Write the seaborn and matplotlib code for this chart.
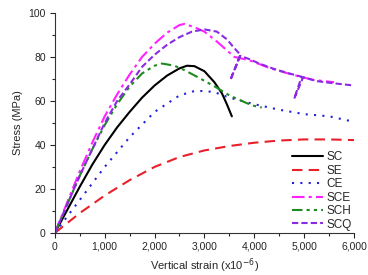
import numpy as np
import pandas as pd
import matplotlib
matplotlib.use("Agg")
import matplotlib.pyplot as plt
import seaborn as sns
from matplotlib.ticker import FuncFormatter, MultipleLocator

# strain (x10^-6) and stress (MPa)
sc_x = [0, 250, 500, 750, 1000, 1250, 1500, 1750, 2000, 2250, 2500, 2650, 2800, 3000, 3200, 3350, 3450, 3550]
sc_y = [0, 10.5, 21, 31, 40, 48, 55, 61.5, 67, 71.5, 74.8, 76, 75.8, 73.5, 68.5, 63.5, 58.5, 53]

se_x = [0, 500, 1000, 1500, 2000, 2500, 3000, 3500, 4000, 4500, 5000, 5500, 6000]
se_y = [0, 9, 17, 24, 30, 34.5, 37.5, 39.5, 41, 42, 42.5, 42.5, 42.2]

ce_x = [0, 500, 1000, 1500, 2000, 2500, 2800, 3000, 3200, 3500, 4000, 4500, 5000, 5500, 6000]
ce_y = [0, 15, 30, 43.5, 55, 62.5, 64.5, 64.5, 64, 61.5, 58.5, 56, 54, 53, 50.5]

sce_x = [0, 250, 500, 750, 1000, 1250, 1500, 1750, 2000, 2250, 2500, 2600, 2800, 3000, 3250, 3450, 3600,
         3900, 4300, 4600, 4920, 5200, 5600]
sce_y = [0, 14, 28, 41, 53, 63, 72, 80, 86, 91, 94.5, 95, 93.5, 91.5, 87, 83, 80,
         78.5, 75, 73, 71, 69.5, 68.5]

sch_x = [0, 250, 500, 750, 1000, 1250, 1500, 1750, 2000, 2150, 2400, 2600, 2850, 3050, 3250, 3500, 3750, 3950, 4150]
sch_y = [0, 13, 26, 38, 49, 58.5, 66.5, 72.5, 76, 77, 76, 74, 71, 68.5, 66, 62.5, 60, 58, 57]

scq_x = [0, 250, 500, 750, 1000, 1250, 1500, 1750, 2000, 2250, 2500, 2750, 3000, 3250, 3450, 3600, 3720,
         3520, 3720, 3900, 4100, 4400, 4700, 4950, 4800, 4980, 5250, 5600, 6000]
scq_y = [0, 13, 26, 38, 50, 60, 67.5, 75.5, 81, 85.5, 89, 91.5, 92.5, 91.5, 88, 84, 81,
         69.5, 80.5, 79, 77, 74.5, 72.5, 71, 61, 70.8, 69, 68, 67]

labels = ["SC", "SE", "CE", "SCE", "SCH", "SCQ"]
xs = [sc_x, se_x, ce_x, sce_x, sch_x, scq_x]
ys = [sc_y, se_y, ce_y, sce_y, sch_y, scq_y]
colors = ["black", "#e8202a", "#2222dd", "#ff22ff", "#1f8a1f", "#8a2be2"]
styles = ["-", (0, (5, 3)), (0, (1, 3)), (0, (6, 2, 1.5, 2)), (0, (5, 2, 1.5, 2, 1.5, 2)), (0, (3, 1.5))]

sns.set_theme(style="ticks")
plt.rcParams["font.family"] = ["Liberation Sans", "DejaVu Sans"]

fig = plt.figure(figsize=(3.68, 2.75), dpi=100)
ax = fig.add_axes([0.149, 0.153, 0.813, 0.8])

for x, y, lab, c, ls in zip(xs, ys, labels, colors, styles):
    df = pd.DataFrame({"strain": x, "stress": y})
    sns.lineplot(data=df, x="strain", y="stress", sort=False, estimator=None,
                 color=c, linestyle=ls, linewidth=1.5, label=lab, ax=ax)

ax.set_xlim(0, 6000)
ax.set_ylim(0, 100)
ax.xaxis.set_major_locator(MultipleLocator(1000))
ax.xaxis.set_minor_locator(MultipleLocator(500))
ax.yaxis.set_major_locator(MultipleLocator(20))
ax.yaxis.set_minor_locator(MultipleLocator(10))
ax.xaxis.set_major_formatter(FuncFormatter(lambda v, p: f"{int(v):,}"))
ax.tick_params(which="major", length=3.5, width=0.8, labelsize=7.5, pad=3)
ax.tick_params(which="minor", length=2, width=0.8)
sns.despine(ax=ax)
for s in ["left", "bottom"]:
    ax.spines[s].set_color("#333333")
    ax.spines[s].set_linewidth(0.8)

ax.set_xlabel("Vertical strain (x10$^{-6}$)", fontsize=8, labelpad=3)
ax.set_ylabel("Stress (MPa)", fontsize=8, labelpad=4)

ax.legend(loc="lower right", frameon=False, fontsize=8.5, handlelength=2.7,
          handletextpad=0.25, labelspacing=0.12, borderaxespad=0.1, borderpad=0.1)

fig.savefig("out.png", dpi=100)
